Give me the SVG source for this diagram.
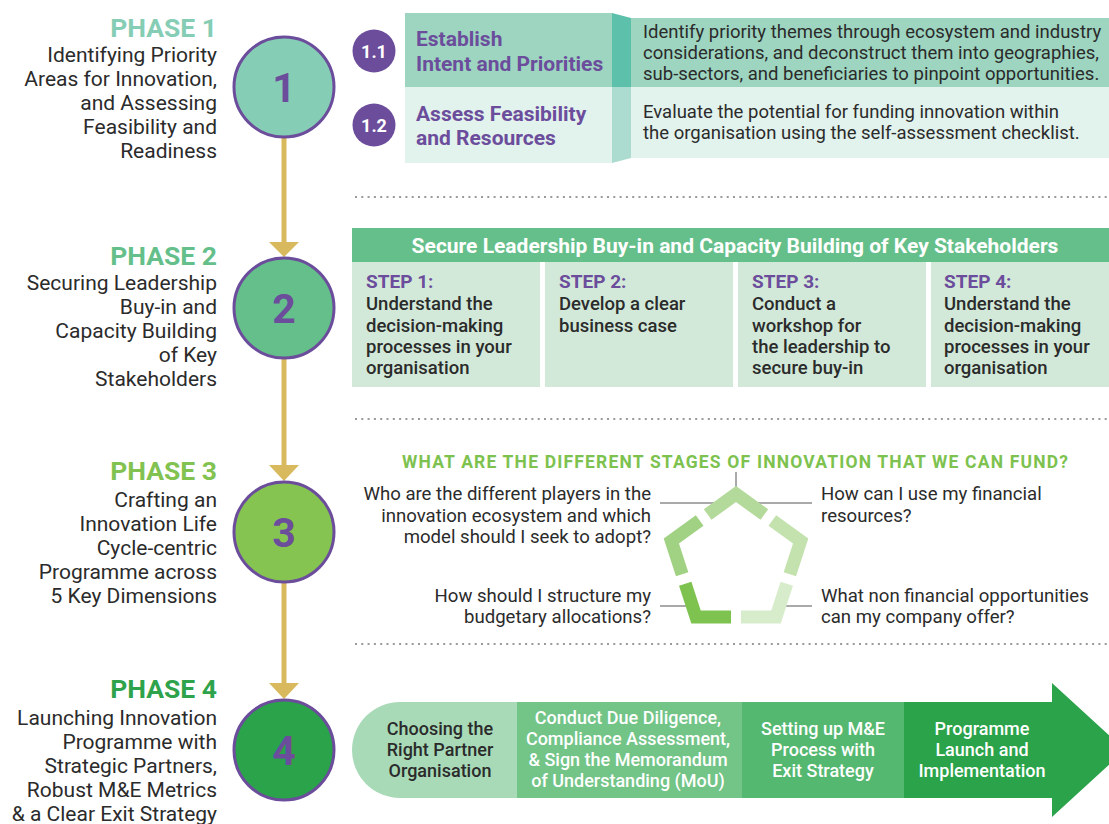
<svg xmlns="http://www.w3.org/2000/svg" width="1109" height="824" viewBox="0 0 1109 824">
<style>
text{font-family:Roboto,"Liberation Sans",Arial,sans-serif;}
.ph{font-size:26.5px;font-weight:700;text-anchor:end;}
.pd{font-size:21px;fill:#2b2b2b;text-anchor:end;}
.circ{stroke:#6b4d9c;stroke-width:3;}
.num{font-size:41px;font-weight:700;fill:#6b4d9c;text-anchor:middle;}
.conn{stroke:#d8b95e;stroke-width:5;}
.ah{fill:#d8b95e;}
.dots{stroke:#9a9a9a;stroke-width:2;stroke-dasharray:2 4.3;}
.badge{fill:#6b4d9c;}
.bt{font-size:18px;font-weight:700;fill:#fff;text-anchor:middle;}
.h1{font-size:21px;font-weight:700;fill:#6b4d9c;}
.desc{font-size:18.5px;fill:#2b2b2b;}
.st{font-size:19px;font-weight:700;fill:#6b4d9c;}
.sd{font-size:18.5px;font-weight:500;fill:#2b2b2b;}
.q{font-size:18.6px;fill:#2b2b2b;}
.ql{stroke:#555;stroke-width:1;}
.seg{fill:none;stroke-width:13;stroke-linejoin:miter;stroke-linecap:butt;}
.at{font-size:18px;font-weight:500;text-anchor:middle;}
</style>

<g id="connectors">
<line class="conn" x1="284" y1="137" x2="284" y2="244"/>
<polygon class="ah" points="269,242 299,242 284,257"/>
<line class="conn" x1="284" y1="358" x2="284" y2="467"/>
<polygon class="ah" points="269,465 299,465 284,481"/>
<line class="conn" x1="284" y1="582" x2="284" y2="685"/>
<polygon class="ah" points="269,683 299,683 284,699"/>
</g>

<g id="separators">
<line class="dots" x1="355" y1="197" x2="1109" y2="197"/>
<line class="dots" x1="355" y1="419" x2="1109" y2="419"/>
<line class="dots" x1="355" y1="644" x2="1109" y2="644"/>
</g>

<g id="phase1">
<text class="ph" x="217" y="37" fill="#86cdb5">PHASE 1</text>
<text class="pd" x="217" y="62">Identifying Priority</text>
<text class="pd" x="217" y="86">Areas for Innovation,</text>
<text class="pd" x="217" y="110">and Assessing</text>
<text class="pd" x="217" y="134">Feasibility and</text>
<text class="pd" x="217" y="158">Readiness</text>
<circle class="circ" cx="284" cy="87" r="50" fill="#86cdb5"/>
<text class="num" x="284" y="102">1</text>
</g>

<g id="phase1-content">
<rect x="405" y="13" width="207" height="74" fill="#9dd5c0"/>
<polygon points="612,13 631,18 631,87 612,87" fill="#5cc0aa"/>
<rect x="631" y="18" width="478" height="69" fill="#9dd5c0"/>
<rect x="405" y="87" width="207" height="76" fill="#e2f2ec"/>
<polygon points="612,87 631,87 631,158 612,163" fill="#acdccf"/>
<rect x="631" y="87" width="478" height="71" fill="#e2f2ec"/>
<circle class="badge" cx="374" cy="51" r="21.5"/>
<text class="bt" x="374" y="57.5">1.1</text>
<circle class="badge" cx="374" cy="125" r="21.5"/>
<text class="bt" x="374" y="131.5">1.2</text>
<text class="h1" x="416" y="46">Establish</text>
<text class="h1" x="416" y="71">Intent and Priorities</text>
<text class="h1" x="416" y="121">Assess Feasibility</text>
<text class="h1" x="416" y="145">and Resources</text>
<text class="desc" x="643" y="38">Identify priority themes through ecosystem and industry</text>
<text class="desc" x="643" y="59">considerations, and deconstruct them into geographies,</text>
<text class="desc" x="643" y="80">sub-sectors, and beneficiaries to pinpoint opportunities.</text>
<text class="desc" x="643" y="118">Evaluate the potential for funding innovation within</text>
<text class="desc" x="643" y="139">the organisation using the self-assessment checklist.</text>
</g>

<g id="phase2">
<text class="ph" x="217" y="265" fill="#64bf8a">PHASE 2</text>
<text class="pd" x="217" y="290">Securing Leadership</text>
<text class="pd" x="217" y="314">Buy-in and</text>
<text class="pd" x="217" y="338">Capacity Building</text>
<text class="pd" x="217" y="362">of Key</text>
<text class="pd" x="217" y="386">Stakeholders</text>
<circle class="circ" cx="284" cy="308" r="50" fill="#64bf8a"/>
<text class="num" x="284" y="323">2</text>
</g>

<g id="phase2-content">
<rect x="352" y="228" width="757" height="34" fill="#65bf8a"/>
<text x="735" y="253" font-size="21" font-weight="700" fill="#fff" text-anchor="middle">Secure Leadership Buy-in and Capacity Building of Key Stakeholders</text>
<rect x="352" y="262" width="188" height="125" fill="#d2e9d9"/>
<rect x="545" y="262" width="188" height="125" fill="#d2e9d9"/>
<rect x="738" y="262" width="188" height="125" fill="#d2e9d9"/>
<rect x="931" y="262" width="178" height="125" fill="#d2e9d9"/>
<text class="st" x="366" y="288">STEP 1:</text>
<text class="sd" x="366" y="310">Understand the</text>
<text class="sd" x="366" y="332">decision-making</text>
<text class="sd" x="366" y="353">processes in your</text>
<text class="sd" x="366" y="374">organisation</text>
<text class="st" x="559" y="288">STEP 2:</text>
<text class="sd" x="559" y="310">Develop a clear</text>
<text class="sd" x="559" y="332">business case</text>
<text class="st" x="752" y="288">STEP 3:</text>
<text class="sd" x="752" y="310">Conduct a</text>
<text class="sd" x="752" y="332">workshop for</text>
<text class="sd" x="752" y="353">the leadership to</text>
<text class="sd" x="752" y="374">secure buy-in</text>
<text class="st" x="944" y="288">STEP 4:</text>
<text class="sd" x="944" y="310">Understand the</text>
<text class="sd" x="944" y="332">decision-making</text>
<text class="sd" x="944" y="353">processes in your</text>
<text class="sd" x="944" y="374">organisation</text>
</g>

<g id="phase3">
<text class="ph" x="217" y="480" fill="#82c250">PHASE 3</text>
<text class="pd" x="217" y="507">Crafting an</text>
<text class="pd" x="217" y="531">Innovation Life</text>
<text class="pd" x="217" y="555">Cycle-centric</text>
<text class="pd" x="217" y="579">Programme across</text>
<text class="pd" x="217" y="603">5 Key Dimensions</text>
<circle class="circ" cx="284" cy="532" r="50" fill="#86c451"/>
<text class="num" x="284" y="547">3</text>
</g>

<g id="phase3-content">
<text x="402" y="468" font-size="17.5" font-weight="700" fill="#7dc24f" textLength="666" lengthAdjust="spacing">WHAT ARE THE DIFFERENT STAGES OF INNOVATION THAT WE CAN FUND?</text>
<line class="ql" x1="736" y1="472" x2="736" y2="490"/>
<line class="ql" x1="660" y1="503" x2="715" y2="503"/>
<line class="ql" x1="757" y1="503" x2="812" y2="503"/>
<line class="ql" x1="660" y1="606" x2="692" y2="606"/>
<line class="ql" x1="780" y1="606" x2="812" y2="606"/>
<path class="seg" stroke="#b3da9a" d="M707.67,514.58 L736,494 L764.33,514.58"/>
<path class="seg" stroke="#c3e2ad" d="M772.34,520.41 L800.67,540.99 L789.85,574.29"/>
<path class="seg" stroke="#d6eccb" d="M786.79,583.71 L775.97,617.01 L740.96,617.01"/>
<path class="seg" stroke="#7ec350" d="M731.04,617.01 L696.03,617.01 L685.21,583.71"/>
<path class="seg" stroke="#a1d283" d="M682.15,574.29 L671.33,540.99 L699.66,520.41"/>
<text class="q" x="651" y="500" text-anchor="end">Who are the different players in the</text>
<text class="q" x="651" y="522" text-anchor="end">innovation ecosystem and which</text>
<text class="q" x="651" y="543" text-anchor="end">model should I seek to adopt?</text>
<text class="q" x="651" y="602" text-anchor="end">How should I structure my</text>
<text class="q" x="651" y="623" text-anchor="end">budgetary allocations?</text>
<text class="q" x="821" y="500">How can I use my financial</text>
<text class="q" x="821" y="522">resources?</text>
<text class="q" x="821" y="602">What non financial opportunities</text>
<text class="q" x="821" y="623">can my company offer?</text>
</g>

<g id="phase4">
<text class="ph" x="217" y="698" fill="#2ea34b">PHASE 4</text>
<text class="pd" x="217" y="725">Launching Innovation</text>
<text class="pd" x="217" y="749">Programme with</text>
<text class="pd" x="217" y="773">Strategic Partners,</text>
<text class="pd" x="217" y="797">Robust M&amp;E Metrics</text>
<text class="pd" x="217" y="821">&amp; a Clear Exit Strategy</text>
<circle class="circ" cx="284" cy="750" r="50" fill="#2aa34a"/>
<text class="num" x="284" y="765">4</text>
</g>

<g id="phase4-content">
<path d="M400,702 H517 V798 H400 A48,48 0 0 1 400,702 Z" fill="#a8dab8"/>
<rect x="517" y="702" width="225" height="96" fill="#72c487"/>
<rect x="742" y="702" width="162" height="96" fill="#55b870"/>
<polygon points="904,702 1052,702 1052,683 1125,750 1052,817 1052,798 904,798" fill="#2aa34a"/>
<text class="at" x="440" y="735" fill="#2b2b2b">Choosing the</text>
<text class="at" x="440" y="756" fill="#2b2b2b">Right Partner</text>
<text class="at" x="440" y="777" fill="#2b2b2b">Organisation</text>
<text class="at" x="628" y="724" fill="#fff">Conduct Due Diligence,</text>
<text class="at" x="628" y="745" fill="#fff">Compliance Assessment,</text>
<text class="at" x="628" y="766" fill="#fff">&amp; Sign the Memorandum</text>
<text class="at" x="628" y="787" fill="#fff">of Understanding (MoU)</text>
<text class="at" x="823" y="735" fill="#fff">Setting up M&amp;E</text>
<text class="at" x="823" y="756" fill="#fff">Process with</text>
<text class="at" x="823" y="777" fill="#fff">Exit Strategy</text>
<text class="at" x="982" y="735" fill="#fff">Programme</text>
<text class="at" x="982" y="756" fill="#fff">Launch and</text>
<text class="at" x="982" y="777" fill="#fff">Implementation</text>
</g>
</svg>
